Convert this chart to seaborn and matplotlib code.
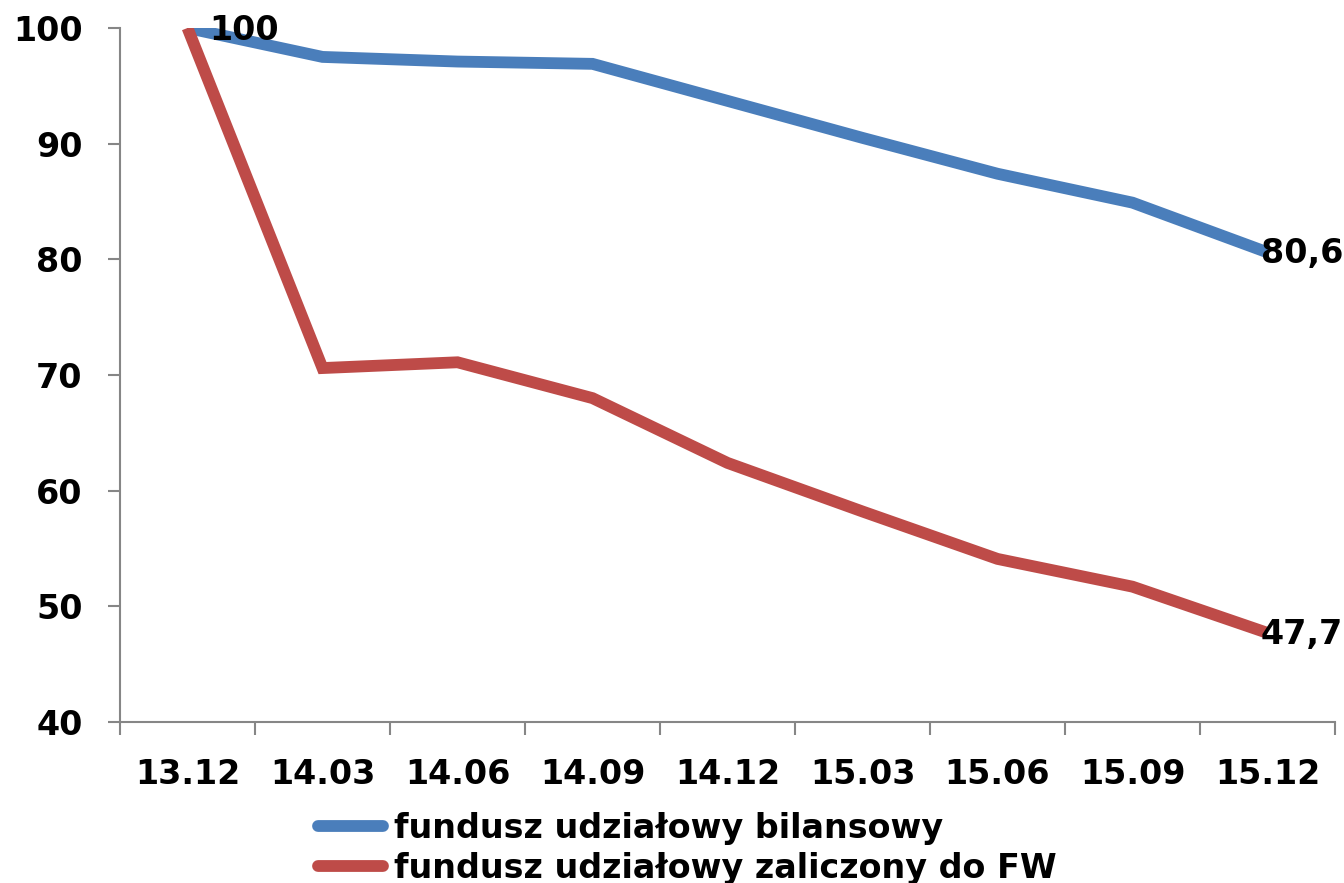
import pandas as pd
import matplotlib.pyplot as plt
import seaborn as sns

# Chart data
periods = ["13.12", "14.03", "14.06", "14.09", "14.12", "15.03", "15.06", "15.09", "15.12"]
bilansowy = [100, 97.5, 97.1, 96.9, 93.7, 90.5, 87.4, 84.9, 80.6]
zaliczony = [100, 70.6, 71.1, 68.0, 62.4, 58.2, 54.1, 51.7, 47.7]
series_names = ["fundusz udziałowy bilansowy", "fundusz udziałowy zaliczony do FW"]
end_labels = ["80,6", "47,7"]
start_label = "100"
yticks = [40, 50, 60, 70, 80, 90, 100]

sns.set_style("white")
plt.rcParams['font.family'] = ['DejaVu Sans']
plt.rcParams['font.weight'] = 'bold'
plt.rcParams['text.color'] = 'black'
plt.rcParams['xtick.color'] = 'black'
plt.rcParams['ytick.color'] = 'black'

df = pd.DataFrame({
    "okres": periods * 2,
    "wartosc": bilansowy + zaliczony,
    "seria": [series_names[0]] * len(periods) + [series_names[1]] * len(periods),
})

fig = plt.figure(figsize=(13.44, 8.83), dpi=100)
ax = fig.add_axes([120 / 1344, 1 - 722 / 883, 1215 / 1344, 694 / 883])

grey = "#868686"
palette = {series_names[0]: "#4A7EBB", series_names[1]: "#BE4B48"}
sns.lineplot(data=df, x="okres", y="wartosc", hue="seria", palette=palette,
             sort=False, linewidth=8.5, ax=ax, legend=True)
for line in ax.get_lines():
    line.set_solid_joinstyle("miter")
    line.set_solid_capstyle("butt")

# Axes limits and ticks
ax.set_ylim(40, 100)
ax.set_xlim(-0.5, len(periods) - 0.5)
ax.set_yticks(yticks)
ax.set_xticks(range(len(periods)))
ax.set_xticklabels(periods)
ax.set_xticks([i - 0.5 for i in range(len(periods) + 1)], minor=True)
ax.tick_params(axis="x", which="major", bottom=True, length=0, pad=26, labelsize=24,
               labelcolor="black")
ax.tick_params(axis="x", which="minor", bottom=True, length=9.5, width=1.5, color=grey,
               direction="out")
ax.tick_params(axis="y", left=True, length=9, width=1.5, color=grey, direction="out",
               pad=18, labelsize=24, labelcolor="black")
ax.set_xlabel("")
ax.set_ylabel("")
sns.despine(ax=ax)
for side in ["left", "bottom"]:
    ax.spines[side].set_color(grey)
    ax.spines[side].set_linewidth(1.5)

# Data labels
ax.annotate(start_label, (0, bilansowy[0]), xytext=(16, -2), textcoords="offset points",
            va="center", ha="left", fontsize=24, fontweight="bold", color="black")
ax.annotate(end_labels[0], (len(periods) - 1, bilansowy[-1]), xytext=(-5, -1),
            textcoords="offset points", va="center", ha="left", fontsize=24,
            fontweight="bold", color="black", annotation_clip=False)
ax.annotate(end_labels[1], (len(periods) - 1, zaliczony[-1]), xytext=(-5, -1),
            textcoords="offset points", va="center", ha="left", fontsize=24,
            fontweight="bold", color="black", annotation_clip=False)

# Legend below the plot
handles, labels = ax.get_legend_handles_labels()
ax.get_legend().remove()
leg = fig.legend(handles, labels, loc="upper left", bbox_to_anchor=(318 / 1344, 1 - 812 / 883),
                 frameon=False, fontsize=24, handlelength=1.95, handletextpad=0.33,
                 labelspacing=0.2, borderpad=0, borderaxespad=0)
for text in leg.get_texts():
    text.set_color("black")
for line in leg.get_lines():
    line.set_linewidth(8.5)
    line.set_solid_capstyle("round")

fig.savefig("out.png", dpi=100)
